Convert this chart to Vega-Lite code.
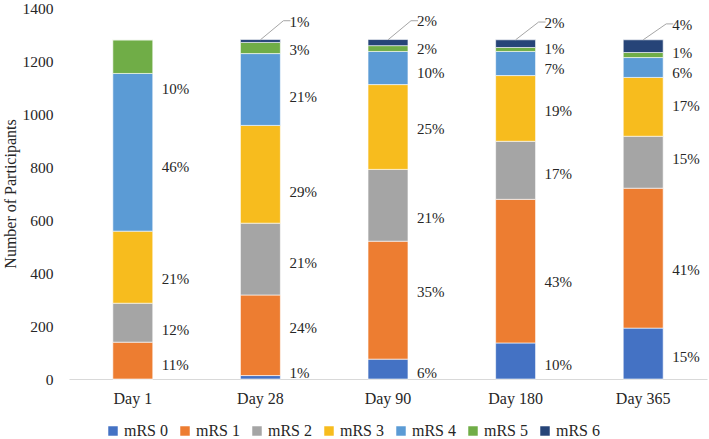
{
  "$schema": "https://vega.github.io/schema/vega-lite/v6.json",
  "width": 638,
  "height": 371,
  "autosize": {"type": "none"},
  "padding": {"left": 69, "top": 8, "right": 2, "bottom": 60},
  "background": "white",
  "config": {
    "view": {"stroke": null},
    "font": "Liberation Serif, Times New Roman, serif",
    "text": {"font": "Liberation Serif, Times New Roman, serif"}
  },
  "datasets": {
    "counts": [
      {"day": "Day 1", "mrs": "mRS 0", "n": 0},
      {"day": "Day 1", "mrs": "mRS 1", "n": 139},
      {"day": "Day 1", "mrs": "mRS 2", "n": 147},
      {"day": "Day 1", "mrs": "mRS 3", "n": 272},
      {"day": "Day 1", "mrs": "mRS 4", "n": 595},
      {"day": "Day 1", "mrs": "mRS 5", "n": 127},
      {"day": "Day 1", "mrs": "mRS 6", "n": 0},
      {"day": "Day 28", "mrs": "mRS 0", "n": 13},
      {"day": "Day 28", "mrs": "mRS 1", "n": 304},
      {"day": "Day 28", "mrs": "mRS 2", "n": 271},
      {"day": "Day 28", "mrs": "mRS 3", "n": 369},
      {"day": "Day 28", "mrs": "mRS 4", "n": 271},
      {"day": "Day 28", "mrs": "mRS 5", "n": 42},
      {"day": "Day 28", "mrs": "mRS 6", "n": 11},
      {"day": "Day 90", "mrs": "mRS 0", "n": 75},
      {"day": "Day 90", "mrs": "mRS 1", "n": 445},
      {"day": "Day 90", "mrs": "mRS 2", "n": 271},
      {"day": "Day 90", "mrs": "mRS 3", "n": 320},
      {"day": "Day 90", "mrs": "mRS 4", "n": 125},
      {"day": "Day 90", "mrs": "mRS 5", "n": 22},
      {"day": "Day 90", "mrs": "mRS 6", "n": 23},
      {"day": "Day 180", "mrs": "mRS 0", "n": 136},
      {"day": "Day 180", "mrs": "mRS 1", "n": 542},
      {"day": "Day 180", "mrs": "mRS 2", "n": 219},
      {"day": "Day 180", "mrs": "mRS 3", "n": 248},
      {"day": "Day 180", "mrs": "mRS 4", "n": 91},
      {"day": "Day 180", "mrs": "mRS 5", "n": 15},
      {"day": "Day 180", "mrs": "mRS 6", "n": 29},
      {"day": "Day 365", "mrs": "mRS 0", "n": 192},
      {"day": "Day 365", "mrs": "mRS 1", "n": 528},
      {"day": "Day 365", "mrs": "mRS 2", "n": 196},
      {"day": "Day 365", "mrs": "mRS 3", "n": 222},
      {"day": "Day 365", "mrs": "mRS 4", "n": 75},
      {"day": "Day 365", "mrs": "mRS 5", "n": 19},
      {"day": "Day 365", "mrs": "mRS 6", "n": 48}
    ],
    "labels": [
      {"day": "Day 1", "label": "11%", "at": 53},
      {"day": "Day 1", "label": "12%", "at": 185},
      {"day": "Day 1", "label": "21%", "at": 377},
      {"day": "Day 1", "label": "46%", "at": 799},
      {"day": "Day 1", "label": "10%", "at": 1096},
      {"day": "Day 28", "label": "1%", "at": 23},
      {"day": "Day 28", "label": "24%", "at": 192},
      {"day": "Day 28", "label": "21%", "at": 437},
      {"day": "Day 28", "label": "29%", "at": 705},
      {"day": "Day 28", "label": "21%", "at": 1063},
      {"day": "Day 28", "label": "3%", "at": 1243},
      {"day": "Day 28", "label": "1%", "at": 1349},
      {"day": "Day 90", "label": "6%", "at": 23},
      {"day": "Day 90", "label": "35%", "at": 327},
      {"day": "Day 90", "label": "21%", "at": 606},
      {"day": "Day 90", "label": "25%", "at": 942},
      {"day": "Day 90", "label": "10%", "at": 1154},
      {"day": "Day 90", "label": "2%", "at": 1247},
      {"day": "Day 90", "label": "2%", "at": 1350},
      {"day": "Day 180", "label": "10%", "at": 53},
      {"day": "Day 180", "label": "43%", "at": 366},
      {"day": "Day 180", "label": "17%", "at": 775},
      {"day": "Day 180", "label": "19%", "at": 1010},
      {"day": "Day 180", "label": "7%", "at": 1168},
      {"day": "Day 180", "label": "1%", "at": 1247},
      {"day": "Day 180", "label": "2%", "at": 1342},
      {"day": "Day 365", "label": "15%", "at": 83},
      {"day": "Day 365", "label": "41%", "at": 411},
      {"day": "Day 365", "label": "15%", "at": 829},
      {"day": "Day 365", "label": "17%", "at": 1029},
      {"day": "Day 365", "label": "6%", "at": 1154},
      {"day": "Day 365", "label": "1%", "at": 1232},
      {"day": "Day 365", "label": "4%", "at": 1337}
    ],
    "leaders": [
      {"day": "Day 28", "top": 1280, "end": 1352},
      {"day": "Day 90", "top": 1280, "end": 1352},
      {"day": "Day 180", "top": 1280, "end": 1347},
      {"day": "Day 365", "top": 1280, "end": 1340}
    ]
  },
  "encoding": {
    "x": {
      "field": "day",
      "type": "nominal",
      "sort": ["Day 1", "Day 28", "Day 90", "Day 180", "Day 365"],
      "scale": {"paddingInner": 0.687, "paddingOuter": 0.3435},
      "axis": {
        "title": null,
        "labelAngle": 0,
        "labelFont": "Liberation Serif, Times New Roman, serif",
        "labelFontSize": 16,
        "labelColor": "#262626",
        "labelPadding": 11,
        "ticks": false,
        "domainColor": "#d9d9d9",
        "domainWidth": 1
      }
    }
  },
  "layer": [
    {
      "data": {"name": "counts"},
      "mark": {"type": "bar", "stroke": "white", "strokeWidth": 0.6},
      "encoding": {
        "y": {
          "field": "n",
          "type": "quantitative",
          "stack": "zero",
          "scale": {"domain": [0, 1400], "nice": false},
          "axis": {
            "title": "Number of Participants",
            "titleFont": "Liberation Serif, Times New Roman, serif",
            "titleFontSize": 16,
            "titleFontWeight": "normal",
            "titleColor": "#262626",
            "titlePadding": 4,
            "values": [0, 200, 400, 600, 800, 1000, 1200, 1400],
            "format": "d",
            "labelFont": "Liberation Serif, Times New Roman, serif",
            "labelFontSize": 15.5,
            "labelColor": "#262626",
            "labelPadding": 16,
            "ticks": false,
            "domain": false,
            "grid": false
          }
        },
        "color": {
          "field": "mrs",
          "type": "nominal",
          "scale": {
            "domain": ["mRS 0", "mRS 1", "mRS 2", "mRS 3", "mRS 4", "mRS 5", "mRS 6"],
            "range": ["#4472C4", "#ED7D31", "#A5A5A5", "#F7BC1E", "#5B9BD5", "#70AD47", "#264478"]
          },
          "legend": {
            "title": null,
            "orient": "none",
            "direction": "horizontal",
            "legendX": 36,
            "legendY": 415,
            "symbolType": "square",
            "symbolSize": 90,
            "symbolStrokeWidth": 0,
            "labelFont": "Liberation Serif, Times New Roman, serif",
            "labelFontSize": 16,
            "labelColor": "#262626",
            "labelOffset": 3,
            "columnPadding": 8
          }
        },
        "order": {"field": "mrs", "sort": "ascending"}
      }
    },
    {
      "data": {"name": "leaders"},
      "mark": {"type": "rule", "color": "#a6a6a6", "strokeWidth": 1, "x2Offset": 23},
      "encoding": {
        "y": {"field": "top", "type": "quantitative"},
        "y2": {"field": "end"},
        "x2": {"field": "day"}
      }
    },
    {
      "data": {"name": "leaders"},
      "mark": {"type": "rule", "color": "#a6a6a6", "strokeWidth": 1, "xOffset": 23, "x2Offset": 30},
      "encoding": {
        "y": {"field": "end", "type": "quantitative"},
        "x2": {"field": "day"}
      }
    },
    {
      "data": {"name": "labels"},
      "mark": {"type": "text", "align": "left", "baseline": "middle", "dx": 29, "fontSize": 15, "color": "#262626", "font": "Liberation Serif, Times New Roman, serif"},
      "encoding": {
        "y": {"field": "at", "type": "quantitative"},
        "text": {"field": "label"}
      }
    }
  ]
}
